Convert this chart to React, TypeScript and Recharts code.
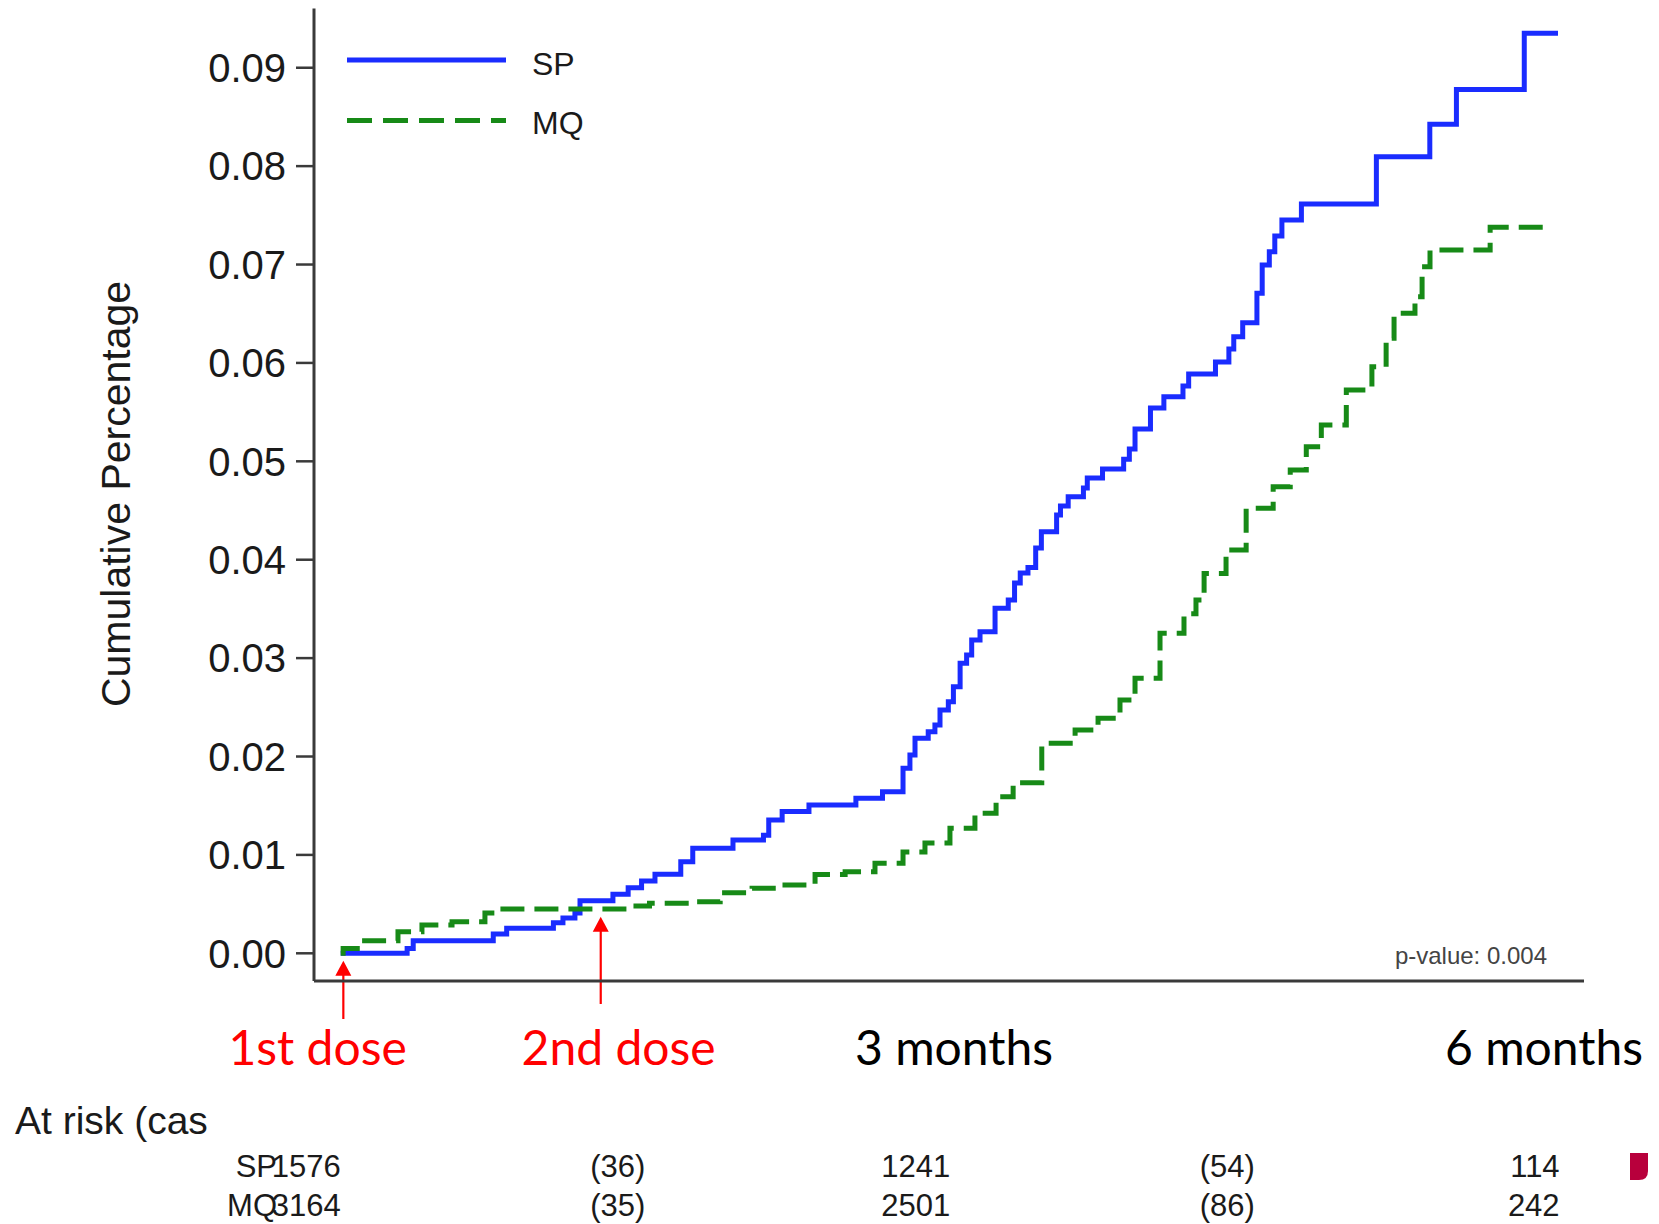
import React from 'react';
import { LineChart, Line, XAxis, YAxis, ReferenceLine } from 'recharts';

// ---- data (time in months, cumulative proportion) ----
const spTimes = [0, 0.327, 0.357, 0.751, 0.817, 1.047, 1.094, 1.153, 1.178, 1.34, 1.415, 1.481, 1.547, 1.674, 1.733, 1.931, 2.081, 2.107, 2.173, 2.305, 2.536, 2.667, 2.768, 2.802, 2.827, 2.892, 2.925, 2.95, 2.991, 3.016, 3.049, 3.081, 3.106, 3.147, 3.221, 3.286, 3.317, 3.345, 3.383, 3.421, 3.449, 3.524, 3.543, 3.581, 3.656, 3.675, 3.75, 3.854, 3.882, 3.91, 3.986, 4.052, 4.146, 4.174, 4.306, 4.372, 4.396, 4.44, 4.51, 4.536, 4.571, 4.598, 4.633, 4.729, 5.098, 5.361, 5.492, 5.826, 5.992];
const spValues = [0, 0.0005, 0.00128, 0.00196, 0.00254, 0.00311, 0.00359, 0.0041, 0.00535, 0.006, 0.00667, 0.00735, 0.00803, 0.00931, 0.01067, 0.01151, 0.012, 0.01355, 0.0144, 0.01507, 0.01575, 0.01642, 0.0188, 0.02015, 0.02185, 0.02252, 0.0232, 0.02473, 0.02557, 0.02709, 0.02947, 0.03032, 0.03184, 0.03268, 0.03506, 0.0359, 0.03763, 0.03865, 0.0392, 0.0412, 0.04285, 0.04454, 0.04546, 0.0464, 0.04729, 0.0483, 0.04922, 0.0502, 0.05125, 0.05328, 0.05542, 0.05657, 0.05765, 0.05887, 0.06009, 0.06141, 0.06266, 0.06409, 0.06707, 0.06995, 0.0713, 0.0729, 0.07452, 0.07615, 0.08096, 0.08425, 0.0878, 0.0935, 0.0935];

const mqTimes = [0, 0.012, 0.105, 0.282, 0.4, 0.548, 0.71, 0.76, 1.42, 1.52, 1.72, 1.868, 2.025, 2.187, 2.335, 2.483, 2.63, 2.768, 2.876, 2.999, 3.122, 3.226, 3.31, 3.451, 3.615, 3.728, 3.836, 3.91, 4.033, 4.151, 4.21, 4.25, 4.358, 4.457, 4.59, 4.674, 4.753, 4.827, 4.95, 5.076, 5.146, 5.185, 5.288, 5.323, 5.362, 5.658, 5.952];
const mqValues = [0, 0.0005, 0.00128, 0.0022, 0.00288, 0.00321, 0.0041, 0.0045, 0.0048, 0.00508, 0.00524, 0.00616, 0.0066, 0.00694, 0.008, 0.0083, 0.00915, 0.0103, 0.0112, 0.0127, 0.01423, 0.0159, 0.01734, 0.02134, 0.0227, 0.02388, 0.02574, 0.02795, 0.03252, 0.0345, 0.0359, 0.0386, 0.041, 0.04522, 0.04742, 0.04912, 0.05148, 0.05369, 0.05725, 0.05961, 0.0625, 0.06504, 0.06673, 0.06978, 0.07147, 0.07378, 0.07378];

const seriesNames = ['SP', 'MQ'];
const yTicks = [0, 0.01, 0.02, 0.03, 0.04, 0.05, 0.06, 0.07, 0.08, 0.09];
const xTicks = [0, 3, 6];
const doseTimes = [0.013, 1.28];
const bottomLabels = ['1st dose', '2nd dose', '3 months', '6 months'];
const atRiskTimes = [0, 1.5, 3, 4.5, 6];
const spAtRisk = ['1576', '(36)', '1241', '(54)', '114'];
const mqAtRisk = ['3164', '(35)', '2501', '(86)', '242'];
const pValueText = 'p-value: 0.004';
const yLabel = 'Cumulative Percentage';
const atRiskTitle = 'At risk (cases)';

// ---- layout ----
const W = 1659;
const H = 1224;
const MARGIN = { top: 8.5, right: 75, bottom: 183, left: 194 };
const Y_AXIS_W = 120;
const X_AXIS_H = 60;
const X_DOMAIN: [number, number] = [-0.1314, 6.12];
const Y_DOMAIN: [number, number] = [-0.002815, 0.09602];
const PLOT_L = MARGIN.left + Y_AXIS_W;
const PLOT_R = W - MARGIN.right;
const xPx = (t: number) => PLOT_L + ((t - X_DOMAIN[0]) / (X_DOMAIN[1] - X_DOMAIN[0])) * (PLOT_R - PLOT_L);

const SANS = '"Liberation Sans", Arial, Helvetica, sans-serif';
const CAL = 'Lato, "Open Sans", sans-serif';
const BLUE = '#1a2cff';
const GREEN = '#178a17';
const AXIS = '#3a3a3a';
const RED = '#ff0000';

const spData = spTimes.map((t, i) => ({ t, v: spValues[i] }));
const mqData = mqTimes.map((t, i) => ({ t, v: mqValues[i] }));

const Arrow = (props: any) => {
  const { x1, y1, x2, y2 } = props;
  const x = x1;
  const yb = Math.max(y1, y2);
  const yt = Math.min(y1, y2);
  return (
    <g>
      <line x1={x} y1={yb} x2={x} y2={yt + 12} stroke={RED} strokeWidth={2.2} />
      <polygon points={`${x},${yt} ${x - 8},${yt + 15} ${x + 8},${yt + 15}`} fill={RED} />
    </g>
  );
};

const doseLabelPos = [
  { x: 228.5, color: RED },
  { x: 521.6, color: RED },
  { x: 855, color: '#000' },
  { x: 1445, color: '#000' },
];

export default function App() {
  return (
    <div style={{ position: 'absolute', left: 0, top: 0, width: W, height: H, background: '#fff', overflow: 'hidden' }}>
      <LineChart width={W} height={H} margin={MARGIN}>
        <XAxis
          type="number"
          dataKey="t"
          domain={X_DOMAIN}
          ticks={xTicks}
          allowDataOverflow
          tick={false}
          tickSize={18}
          height={X_AXIS_H}
          axisLine={{ stroke: AXIS, strokeWidth: 3 }}
          tickLine={{ stroke: AXIS, strokeWidth: 2.5 }}
        />
        <YAxis
          type="number"
          domain={Y_DOMAIN}
          ticks={yTicks}
          allowDataOverflow
          width={Y_AXIS_W}
          tickSize={18}
          tickMargin={10}
          tickFormatter={(v: number) => v.toFixed(2)}
          tick={{ fontSize: 40, fill: '#1a1a1a', fontFamily: SANS }}
          axisLine={{ stroke: AXIS, strokeWidth: 3 }}
          tickLine={{ stroke: AXIS, strokeWidth: 2.5 }}
        />
        <Line
          data={spData}
          dataKey="v"
          name={seriesNames[0]}
          type="stepAfter"
          stroke={BLUE}
          strokeWidth={5}
          dot={false}
          activeDot={false}
          isAnimationActive={false}
        />
        <Line
          data={mqData}
          dataKey="v"
          name={seriesNames[1]}
          type="stepAfter"
          stroke={GREEN}
          strokeWidth={5}
          strokeDasharray="24 10"
          dot={false}
          activeDot={false}
          isAnimationActive={false}
        />
        <ReferenceLine
          segment={[{ x: doseTimes[0], y: -0.00668 }, { x: doseTimes[0], y: -0.00075 }]}
          ifOverflow="visible"
          shape={Arrow}
        />
        <ReferenceLine
          segment={[{ x: doseTimes[1], y: -0.00515 }, { x: doseTimes[1], y: 0.00372 }]}
          ifOverflow="visible"
          shape={Arrow}
        />
      </LineChart>

      <svg width={W} height={H} style={{ position: 'absolute', left: 0, top: 0, pointerEvents: 'none' }}>
        <defs>
          <clipPath id="atRiskClip">
            <rect x={0} y={1085} width={207} height={70} />
          </clipPath>
        </defs>
        {/* y axis title */}
        <text
          x={116}
          y={494}
          transform="rotate(-90 116 494)"
          textAnchor="middle"
          dominantBaseline="central"
          fontSize={41}
          fontFamily={SANS}
          fill="#1a1a1a"
        >
          {yLabel}
        </text>
        {/* legend */}
        <line x1={347} y1={60} x2={506} y2={60} stroke={BLUE} strokeWidth={5} />
        <text x={532} y={63.5} dominantBaseline="central" fontSize={32} fontFamily={SANS} fill="#1a1a1a">
          {seriesNames[0]}
        </text>
        <line x1={347} y1={120.6} x2={506} y2={120.6} stroke={GREEN} strokeWidth={5} strokeDasharray="25 11" />
        <text x={532} y={122.7} dominantBaseline="central" fontSize={32} fontFamily={SANS} fill="#1a1a1a">
          {seriesNames[1]}
        </text>
        {/* p-value */}
        <text x={1547} y={964} textAnchor="end" fontSize={24} fontFamily={SANS} fill="#444">
          {pValueText}
        </text>
        {/* dose / month labels */}
        {bottomLabels.map((s, i) => (
          <text key={s} x={doseLabelPos[i].x} y={1065} fontSize={48} fontFamily={CAL} fill={doseLabelPos[i].color}>
            {s}
          </text>
        ))}
        {/* at risk table */}
        <text x={15} y={1133.5} fontSize={39} fontFamily={SANS} fill="#1a1a1a" clipPath="url(#atRiskClip)">
          {atRiskTitle}
        </text>
        <text x={277} y={1176.5} textAnchor="end" fontSize={31} fontFamily={SANS} fill="#1a1a1a">
          {seriesNames[0]}
        </text>
        <text x={277} y={1216} textAnchor="end" fontSize={31} fontFamily={SANS} fill="#1a1a1a">
          {seriesNames[1]}
        </text>
        {atRiskTimes.map((t, i) => (
          <text key={'sp' + i} x={xPx(t)} y={1176.5} textAnchor="end" fontSize={31} fontFamily={SANS} fill="#1a1a1a">
            {spAtRisk[i]}
          </text>
        ))}
        {atRiskTimes.map((t, i) => (
          <text key={'mq' + i} x={xPx(t)} y={1216} textAnchor="end" fontSize={31} fontFamily={SANS} fill="#1a1a1a">
            {mqAtRisk[i]}
          </text>
        ))}
        {/* stray crimson mark at right edge */}
        <path d="M1630,1153 L1648,1153 L1648,1171 Q1648,1180 1639,1180 L1630,1180 Z" fill="#b8003c" />
      </svg>
    </div>
  );
}
